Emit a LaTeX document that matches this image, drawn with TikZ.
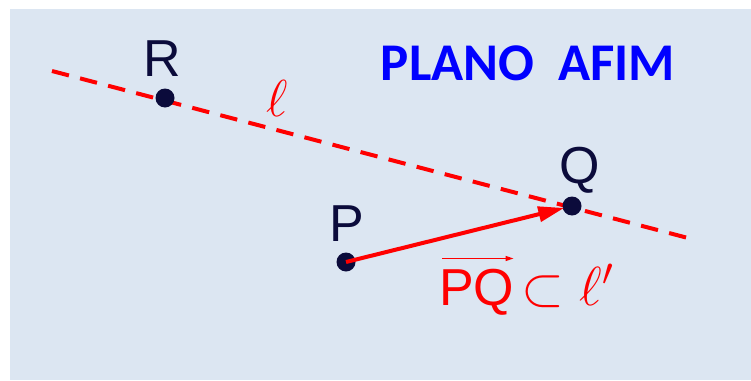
\RequirePackage{fix-cm}
\documentclass[tikz,border=0pt]{standalone}
\usepackage{fontspec}
\setmainfont{Liberation Sans}
\newfontfamily\titlefont{Carlito}
\usetikzlibrary{arrows.meta}
\definecolor{bgblue}{HTML}{DCE6F2}
\definecolor{ptnavy}{HTML}{0B0B3B}
\definecolor{titleblue}{HTML}{0000FF}
\tikzset{
  dot/.style={circle,fill=ptnavy,inner sep=0pt,minimum size=19pt},
  ptlabel/.style={inner sep=0pt,anchor=base,text=ptnavy,font=\fontsize{52}{60}\selectfont},
  redlabel/.style={inner sep=0pt,anchor=base,text=red,font=\fontsize{52}{60}\selectfont},
  dashline/.style={red,line width=4pt,dash pattern=on 17.5pt off 11.5pt},
  vecarrow/.style={red,line width=4pt,-{Triangle[length=26pt,width=15pt]},shorten >=8pt},
  overarrow/.style={red,line width=1.5pt,-{Triangle[length=8pt,width=5pt]}}
}
\begin{document}
\begin{tikzpicture}[x=1pt,y=-1pt]
\useasboundingbox (0,0) rectangle (751,380);
\fill[bgblue] (10,9) rectangle (751,380);
\coordinate (L1) at (52,71);
\coordinate (L2) at (688,238);
\draw[dashline] (L1) -- (L2);
\node[dot] (R) at (165,98) {};
\node[dot] (Q) at (572,206) {};
\node[dot] (P) at (346,262) {};
\draw[vecarrow] (P.center) -- (Q.center);
\node[ptlabel] (Rl) at (162,76) {R};
\node[ptlabel] (Ql) at (580,183) {Q};
\node[ptlabel] (Pl) at (347,241) {P};
\node[redlabel] (ell) at (277,116) {$\ell$};
\node[redlabel,anchor=base west] (pq) at (439,305) {PQ};
\node[redlabel,anchor=base west,font=\fontsize{55}{60}\selectfont] (sub) at ([xshift=7pt]pq.base east) {$\subset\ell'$};
\draw[overarrow] ([yshift=10pt,xshift=3pt]pq.north west) -- ([yshift=10pt,xshift=-1pt]pq.north east);
\node[inner sep=0pt,anchor=base,text=titleblue,font=\titlefont\bfseries\fontsize{53}{60}\selectfont] (title) at (528,80) {PLANO\ \ AFIM};
\end{tikzpicture}
\end{document}
